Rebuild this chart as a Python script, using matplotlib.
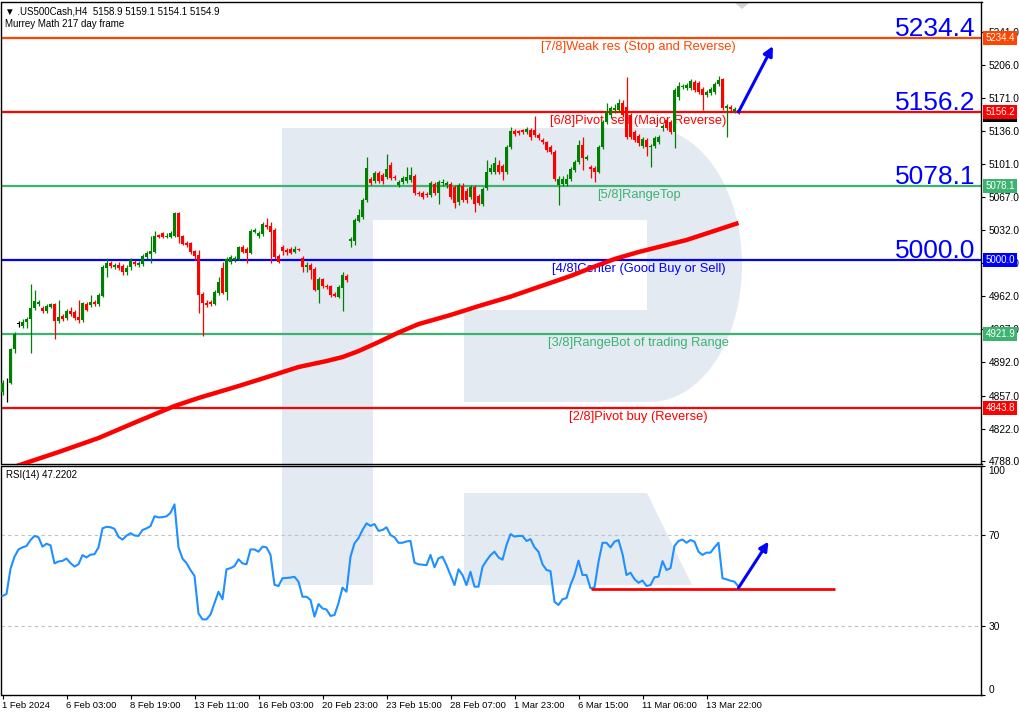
import numpy as np
import matplotlib.pyplot as plt
from matplotlib.patches import Polygon
import matplotlib.transforms as mtransforms

plt.rcParams['font.family'] = ['Liberation Sans', 'DejaVu Sans']

# ---- data (H4 bars, index 0 = 1 Feb 2024 00:00) ----
opens = [4860.6, 4870.2, 4870.2, 4906.1, 4933.5, 4930.3, 4934.6, 4937.7, 4949.4, 4953.6,
         4949.4, 4946.2, 4950.4, 4953.6, 4935.6, 4940.9, 4938.8, 4946.2, 4945.1, 4939.8,
         4936.7, 4953.6, 4952.5, 4955.7, 4953.6, 4962.0, 4991.6, 4996.9, 4992.6, 4994.8,
         4993.7, 4987.4, 4992.6, 4997.9, 4994.8, 4995.8, 5003.2, 5006.4, 5008.5, 5026.4,
         5028.6, 5024.3, 5024.3, 5025.4, 5049.7, 5025.4, 5018.0, 5018.0, 5009.5, 5005.3,
         4964.1, 4954.6, 4955.7, 4953.6, 4965.2, 4991.6, 4966.2, 4997.9, 5000.0, 5001.1,
         5013.8, 5011.7, 5007.4, 5029.6, 5025.4, 5027.5, 5037.0, 5035.9, 5031.8, 5004.3,
         5013.8, 5010.6, 5011.7, 5008.5, 5011.7, 5002.2, 4992.6, 4994.8, 4990.5, 4968.4,
         4980.0, 4972.6, 4972.6, 4964.1, 4961.0, 4970.5, 4983.1, 5020.1, 5020.1, 5041.2,
         5045.4, 5063.4, 5085.6, 5083.5, 5091.9, 5089.8, 5087.7, 5100.4, 5087.7, 5079.2,
         5082.4, 5083.5, 5084.5, 5088.7, 5070.8, 5070.8, 5069.7, 5068.7, 5080.3, 5070.8,
         5081.4, 5079.2, 5080.3, 5077.1, 5061.3, 5078.2, 5072.9, 5066.6, 5077.1, 5067.6,
         5059.2, 5076.1, 5093.0, 5093.0, 5100.4, 5099.3, 5093.0, 5119.4, 5136.3, 5136.3,
         5137.4, 5135.2, 5137.4, 5137.4, 5132.0, 5126.8, 5124.7, 5119.4, 5114.1, 5079.2,
         5080.3, 5080.3, 5085.6, 5095.1, 5103.5, 5121.5, 5106.7, 5098.2, 5097.2, 5093.0,
         5119.4, 5145.8, 5153.2, 5158.4, 5158.4, 5165.8, 5161.6, 5153.2, 5135.2, 5131.0,
         5120.4, 5126.8, 5119.4, 5120.4, 5124.7, 5139.4, 5147.9, 5145.8, 5135.2, 5172.2,
         5182.7, 5181.7, 5181.7, 5188.0, 5187.0, 5180.6, 5174.3, 5176.4, 5177.5, 5185.9,
         5191.2, 5160.6, 5161.6, 5157.4, 5158.9]
highs = [4873.3, 4875.4, 4907.1, 4924.0, 4935.6, 4937.7, 4939.8, 4974.7, 4968.4, 4957.8,
         4951.5, 4953.6, 4954.6, 4954.6, 4957.8, 4943.0, 4948.3, 4950.4, 4947.3, 4957.8,
         4955.7, 4955.7, 4963.1, 4957.8, 4965.2, 4994.8, 5002.2, 4999.0, 4996.9, 4997.9,
         4995.8, 4994.8, 5002.2, 5000.0, 4999.0, 5006.4, 5009.5, 5025.4, 5030.7, 5027.5,
         5029.6, 5028.6, 5030.7, 5050.7, 5050.7, 5026.4, 5020.1, 5019.0, 5010.6, 5010.6,
         4966.2, 4957.8, 4957.8, 4968.4, 4982.1, 4997.9, 5003.2, 5005.3, 5004.3, 5014.8,
         5015.9, 5013.8, 5032.8, 5033.8, 5030.7, 5040.2, 5044.4, 5040.2, 5033.8, 5006.4,
         5015.9, 5012.7, 5013.8, 5014.8, 5012.7, 5004.3, 4997.9, 4996.9, 4992.6, 4982.1,
         4981.0, 4974.7, 4973.6, 4966.2, 4973.6, 4987.4, 4985.2, 5024.3, 5044.4, 5053.9,
         5065.5, 5108.8, 5087.7, 5094.0, 5094.0, 5091.9, 5112.0, 5103.5, 5089.8, 5084.5,
         5088.7, 5098.2, 5098.2, 5090.9, 5072.9, 5072.9, 5071.8, 5083.5, 5082.4, 5084.5,
         5085.6, 5083.5, 5082.4, 5079.2, 5081.4, 5081.4, 5076.1, 5079.2, 5079.2, 5069.7,
         5077.1, 5105.6, 5101.4, 5108.8, 5105.6, 5101.4, 5121.5, 5140.5, 5138.4, 5137.4,
         5138.4, 5140.5, 5139.4, 5152.1, 5134.2, 5128.9, 5125.7, 5121.5, 5116.2, 5088.7,
         5088.7, 5090.9, 5098.2, 5105.6, 5126.8, 5129.9, 5110.9, 5100.4, 5099.3, 5121.5,
         5147.9, 5165.8, 5162.7, 5164.8, 5170.1, 5169.0, 5193.3, 5155.3, 5137.4, 5133.1,
         5129.9, 5128.9, 5122.5, 5131.0, 5132.0, 5143.7, 5150.0, 5147.9, 5181.7, 5188.0,
         5185.9, 5187.0, 5191.2, 5190.1, 5189.1, 5182.7, 5179.6, 5182.7, 5188.0, 5194.3,
         5192.2, 5164.8, 5163.7, 5161.6, 5159.1]
lows = [4857.5, 4850.1, 4869.1, 4901.8, 4929.3, 4928.2, 4928.2, 4901.8, 4947.3, 4951.5,
        4944.1, 4944.1, 4949.4, 4916.6, 4933.5, 4935.6, 4936.7, 4940.9, 4936.7, 4933.5,
        4934.6, 4946.2, 4950.4, 4951.5, 4951.5, 4961.0, 4982.1, 4991.6, 4990.5, 4989.5,
        4984.2, 4984.2, 4989.5, 4993.7, 4992.6, 4993.7, 5001.1, 4996.9, 5007.4, 5023.3,
        5023.3, 5023.3, 5023.3, 5024.3, 5018.0, 5015.9, 5013.8, 5006.4, 5000.0, 4944.1,
        4919.8, 4950.4, 4951.5, 4952.5, 4963.1, 4964.1, 4957.8, 4995.8, 4997.9, 5000.0,
        5007.4, 4996.9, 5006.4, 5028.6, 5023.3, 5025.4, 5032.8, 4996.9, 5001.1, 4996.9,
        5005.3, 5005.3, 5006.4, 5007.4, 5009.5, 4987.4, 4987.4, 4980.0, 4967.3, 4954.6,
        4970.5, 4969.4, 4961.0, 4961.0, 4959.9, 4946.2, 4976.8, 5013.8, 5015.9, 5040.2,
        5043.3, 5061.3, 5079.2, 5081.4, 5081.4, 5080.3, 5085.6, 5084.5, 5084.5, 5077.1,
        5080.3, 5081.4, 5082.4, 5068.7, 5067.6, 5064.5, 5066.6, 5066.6, 5068.7, 5059.2,
        5078.2, 5076.1, 5064.5, 5055.0, 5058.1, 5061.3, 5060.2, 5064.5, 5050.7, 5058.1,
        5057.1, 5074.0, 5090.9, 5090.9, 5090.9, 5084.5, 5090.9, 5117.3, 5131.0, 5132.0,
        5133.1, 5133.1, 5126.8, 5129.9, 5126.8, 5122.5, 5114.1, 5112.0, 5083.5, 5058.1,
        5078.2, 5078.2, 5083.5, 5093.0, 5101.4, 5095.1, 5105.6, 5086.6, 5082.4, 5091.9,
        5117.3, 5143.7, 5150.0, 5155.3, 5156.3, 5151.1, 5127.8, 5127.8, 5124.7, 5120.4,
        5118.3, 5109.9, 5098.2, 5118.3, 5122.5, 5136.3, 5137.4, 5133.1, 5118.3, 5169.0,
        5180.6, 5179.6, 5179.6, 5177.5, 5175.3, 5158.4, 5172.2, 5174.3, 5175.3, 5183.8,
        5158.4, 5129.9, 5157.4, 5155.3, 5154.1]
closes = [4870.2, 4870.2, 4906.1, 4921.9, 4933.5, 4934.6, 4937.7, 4949.4, 4956.7, 4955.7,
          4946.2, 4951.5, 4953.6, 4935.6, 4939.8, 4937.7, 4946.2, 4943.0, 4938.8, 4936.7,
          4954.6, 4947.3, 4955.7, 4953.6, 4963.1, 4992.6, 4996.9, 4993.7, 4994.8, 4991.6,
          4987.4, 4991.6, 5000.0, 4995.8, 4996.9, 5004.3, 5007.4, 5009.5, 5025.4, 5024.3,
          5024.3, 5025.4, 5028.6, 5049.7, 5024.3, 5016.9, 5015.9, 5008.5, 5004.3, 4963.1,
          4954.6, 4952.5, 4953.6, 4966.2, 4976.8, 4965.2, 5001.1, 5003.2, 5002.2, 5013.8,
          5008.5, 5007.4, 5030.7, 5031.8, 5028.6, 5038.1, 5034.9, 5029.6, 5003.2, 4997.9,
          5009.5, 5008.5, 5007.4, 5011.7, 5010.6, 4992.6, 4994.8, 4989.5, 4968.4, 4980.0,
          4972.6, 4971.5, 4963.1, 4962.0, 4971.5, 4984.2, 4978.9, 5022.2, 5042.3, 5047.6,
          5063.4, 5097.2, 5081.4, 5091.9, 5083.5, 5083.5, 5096.1, 5086.6, 5086.6, 5082.4,
          5086.6, 5087.7, 5089.8, 5070.8, 5069.7, 5066.6, 5068.7, 5081.4, 5070.8, 5082.4,
          5082.4, 5081.4, 5066.6, 5060.2, 5079.2, 5063.4, 5063.4, 5077.1, 5059.2, 5060.2,
          5075.0, 5093.0, 5097.2, 5102.5, 5093.0, 5093.0, 5119.4, 5136.3, 5133.1, 5134.2,
          5135.2, 5138.4, 5129.9, 5132.0, 5128.9, 5124.7, 5116.2, 5114.1, 5085.6, 5085.6,
          5085.6, 5085.6, 5096.1, 5103.5, 5121.5, 5107.8, 5108.8, 5096.1, 5093.0, 5119.4,
          5145.8, 5156.3, 5160.6, 5160.6, 5165.8, 5153.2, 5129.9, 5129.9, 5126.8, 5123.6,
          5127.8, 5119.4, 5120.4, 5128.9, 5129.9, 5141.5, 5139.4, 5135.2, 5179.6, 5183.8,
          5183.8, 5184.8, 5189.1, 5179.6, 5177.5, 5174.3, 5177.5, 5180.6, 5185.9, 5190.1,
          5160.6, 5162.7, 5159.5, 5159.5, 5154.9]

# moving average (217) read at a few bars
ma_bars = [2, 14, 24, 34, 43, 49, 59, 67, 74, 81, 85, 89, 94, 99, 104, 112, 119, 127,
           134, 142, 149, 153, 159, 171, 184]
ma_vals = [4780.4, 4797.3, 4812.1, 4830.1, 4845.9, 4854.4, 4867.0, 4877.6, 4887.1, 4893.4,
           4897.6, 4903.9, 4913.4, 4923.5, 4932.4, 4942.0, 4951.4, 4961.4, 4971.6, 4983.2,
           4994.8, 5001.1, 5008.5, 5021.2, 5039.2]

rsi_vals = [43.1, 44.0, 55.0, 60.3, 63.5, 64.4, 65.0, 67.6, 69.4, 68.8,
            64.7, 66.0, 65.3, 57.4, 58.2, 58.5, 59.5, 57.5, 56.0, 57.0,
            61.0, 60.0, 61.2, 61.4, 64.4, 72.7, 73.4, 73.2, 72.5, 69.0,
            67.8, 69.5, 70.6, 69.6, 69.4, 72.0, 72.7, 73.7, 78.0, 77.5,
            77.6, 78.0, 79.5, 83.2, 64.4, 59.5, 57.5, 54.5, 51.9, 35.5,
            32.9, 32.9, 35.0, 40.0, 45.0, 41.7, 54.8, 55.3, 56.2, 59.2,
            57.4, 57.0, 63.5, 63.5, 62.5, 64.7, 64.4, 61.1, 48.0, 47.5,
            50.9, 51.0, 51.2, 51.5, 49.4, 42.8, 42.8, 41.4, 34.1, 39.6,
            37.7, 37.2, 34.4, 34.8, 40.0, 46.8, 45.0, 60.3, 66.2, 68.4,
            72.0, 74.9, 73.8, 74.6, 71.6, 72.0, 73.2, 69.8, 68.8, 66.4,
            66.4, 67.0, 67.2, 57.7, 57.0, 56.8, 56.6, 61.1, 55.7, 59.6,
            60.3, 56.6, 52.3, 47.9, 54.8, 52.3, 47.9, 53.7, 47.2, 47.2,
            55.9, 58.6, 61.0, 62.5, 60.0, 59.0, 65.4, 70.2, 69.1, 69.4,
            69.4, 67.2, 68.0, 64.4, 62.5, 57.0, 54.5, 54.0, 40.6, 39.2,
            41.7, 42.2, 47.9, 52.3, 58.6, 52.3, 52.3, 46.5, 46.9, 58.1,
            66.4, 66.4, 64.4, 66.9, 67.6, 61.5, 52.3, 53.3, 50.5, 48.9,
            49.9, 47.5, 47.9, 51.3, 51.6, 58.4, 54.5, 55.3, 65.0, 67.2,
            67.8, 66.4, 67.6, 66.9, 62.5, 61.1, 62.1, 62.1, 64.4, 66.4,
            50.9, 50.4, 49.8, 49.4, 47.2]

levels = [5234.4, 5156.2, 5078.1, 5000.0, 4921.9, 4843.8]
level_names = ['[7/8]Weak res (Stop and Reverse)', '[6/8]Pivot  sell (Major Reverse)',
               '[5/8]RangeTop', '[4/8]Center (Good Buy or Sell)',
               '[3/8]RangeBot of trading Range', '[2/8]Pivot buy (Reverse)']
level_colors = ['#ff4500', '#ff0000', '#3cb371', '#0000ff', '#3cb371', '#ff0000']
big_levels = [5234.4, 5156.2, 5078.1, 5000.0]

price_ticks = [5241.0, 5206.0, 5171.0, 5136.0, 5101.0, 5067.0, 5032.0, 4997.0,
               4962.0, 4927.0, 4892.0, 4857.0, 4822.0, 4788.0]
time_ticks = [0, 16, 32, 48, 64, 80, 96, 112, 128, 144, 160, 176]
time_labels = ['1 Feb 2024', '6 Feb 03:00', '8 Feb 19:00', '13 Feb 11:00', '16 Feb 03:00',
               '20 Feb 23:00', '23 Feb 15:00', '28 Feb 07:00', '1 Mar 23:00',
               '6 Mar 15:00', '11 Mar 06:00', '13 Mar 22:00']

GREEN = '#008000'
RED = '#ff0000'
W, H = 1020, 714

fig = plt.figure(figsize=(W / 100, H / 100), dpi=100)
fig.patch.set_facecolor('white')

# watermark logo, drawn in pixel coordinates behind everything
bg = fig.add_axes([0, 0, 1, 1], zorder=0)
bg.set_xlim(0, W)
bg.set_ylim(H, 0)
bg.axis('off')
logo_c = '#e4eaf2'
bg.add_patch(Polygon([(282, 128), (373, 128), (373, 585), (282, 585)], closed=True,
                     fc=logo_c, ec='none'))
t = np.linspace(-np.pi / 2, np.pi / 2, 60)
arc = list(zip(650 + 92 * np.cos(t), 265 + 137 * np.sin(t)))
bowl = [(370, 128)] + arc + [(464, 402), (464, 310), (647, 310), (647, 220), (370, 220)]
bg.add_patch(Polygon(bowl, closed=True, fc=logo_c, ec='none'))
bg.add_patch(Polygon([(464, 493), (647, 493), (692, 585), (464, 585)], closed=True,
                     fc=logo_c, ec='none'))
bg.add_patch(Polygon([(734, 2), (750, 2), (742, 9)], closed=True, fc='#d4d4d4', ec='none'))

left, right = 1.5, 981.5
ax = fig.add_axes([left / W, 1 - 464 / H, (right - left) / W, (464 - 2) / H], zorder=1)
rsi = fig.add_axes([left / W, 1 - 695 / H, (right - left) / W, (695 - 466) / H], zorder=1)
for a in (ax, rsi):
    a.set_facecolor('none')
    a.set_xlim(-0.25, 244.75)
    for s in a.spines.values():
        s.set_linewidth(1.0)
        s.set_color('black')

ax.set_ylim(4784.7, 5272.5)

# Murrey levels
for v, name, c in zip(levels, level_names, level_colors):
    ax.axhline(v, color=c, lw=1.6, zorder=2)
    ax.annotate(name, xy=(159, v), xytext=(0, -6.6), textcoords='offset points',
                ha='center', va='center', color=c, fontsize=9.3, zorder=2.2)
for v in big_levels:
    ax.annotate('%.1f' % v, xy=(243.2, v), xytext=(0, 1.6), textcoords='offset points',
                ha='right', va='baseline', color='#0000ff', fontsize=19, zorder=6)

# moving average
ax.plot(ma_bars, ma_vals, color=RED, lw=3.2, solid_capstyle='butt', zorder=3)

# candles
for i, (o, h, l, c) in enumerate(zip(opens, highs, lows, closes)):
    if c > o:
        col = GREEN
    elif c < o:
        col = RED
    else:
        col = 'black'
    ax.vlines(i, l, h, color=col, lw=0.9, zorder=4)
    lo, hi = min(o, c), max(o, c)
    ax.bar(i, max(hi - lo, 1.0), bottom=lo if hi - lo >= 1.0 else lo - 0.5, width=0.78,
           color=col, linewidth=0, zorder=4)

ax.annotate('', xy=(192.6, 5226.0), xytext=(184, 5156.3),
            arrowprops=dict(arrowstyle='-|>', color='#0000ff', lw=2.2, mutation_scale=14,
                            shrinkA=0, shrinkB=0), zorder=7)

ax.yaxis.tick_right()
ax.set_yticks(price_ticks)
ax.set_yticklabels(['%.1f' % v for v in price_ticks])
ax.tick_params(axis='y', direction='out', length=3, width=0.8, labelsize=7.3, pad=2)
ax.set_xticks([])

# price boxes on the right scale
trans = mtransforms.blended_transform_factory(ax.transAxes, ax.transData)
xbox = 1 + 4.0 / (right - left)
ax.text(xbox, 5154.9 - 1.8, '5154.9', transform=trans, ha='left', va='center',
        fontsize=7, color='white', clip_on=False, zorder=9,
        bbox=dict(boxstyle='square,pad=0.22', fc='black', ec='none'))
for v, c in zip(levels, level_colors):
    ax.text(xbox, v, '%.1f' % v, transform=trans, ha='left', va='center', fontsize=7,
            color='white', clip_on=False, zorder=10,
            bbox=dict(boxstyle='square,pad=0.22', fc=c, ec='none'))

# RSI panel
rsi.set_ylim(-0.2, 100)
rsi.axhline(70, color='#c0c0c0', lw=0.8, ls=(0, (3, 3)), zorder=1)
rsi.axhline(30, color='#c0c0c0', lw=0.8, ls=(0, (3, 3)), zorder=1)
rsi.plot(range(len(rsi_vals)), rsi_vals, color='#1e90ff', lw=1.5, zorder=3)
rsi.hlines(46.3, 147, 208, color=RED, lw=2.0, zorder=4)
rsi.annotate('', xy=(191.5, 66.9), xytext=(184, 46.7),
             arrowprops=dict(arrowstyle='-|>', color='#0000ff', lw=2.2, mutation_scale=13,
                             shrinkA=0, shrinkB=0), zorder=7)
rsi.yaxis.tick_right()
rsi.set_yticks([0, 30, 70, 100])
rsi.set_yticklabels(['0', '30', '70', '100'])
rsi.tick_params(axis='y', direction='out', length=3, width=0.8, labelsize=7.3, pad=2)
for lbl in rsi.get_yticklabels():
    if lbl.get_text() == '100':
        lbl.set_verticalalignment('top')
    elif lbl.get_text() == '0':
        lbl.set_verticalalignment('bottom')
rsi.set_xticks(time_ticks)
rsi.set_xticklabels(time_labels, ha='left')
rsi.tick_params(axis='x', direction='out', length=3, width=0.8, labelsize=6.8, pad=1.5)

# header texts
fig.text(5 / W, 1 - 11 / H, '\u25bc .US500Cash,H4  5158.9 5159.1 5154.1 5154.9',
         fontsize=7, va='center', ha='left')
fig.text(5 / W, 1 - 24 / H, 'Murrey Math 217 day frame', fontsize=7, va='center', ha='left')
fig.text(6 / W, 1 - 475 / H, 'RSI(14) 47.2202', fontsize=7, va='center', ha='left')

fig.savefig('out.png', dpi=100)
